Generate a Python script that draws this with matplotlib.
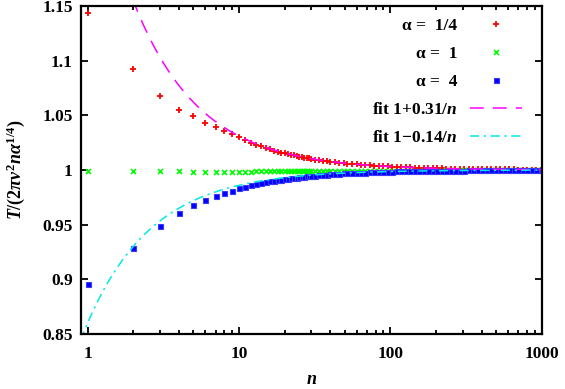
import numpy as np
import matplotlib
matplotlib.use("Agg")
import matplotlib.pyplot as plt
from matplotlib.ticker import FixedLocator, LogLocator, NullFormatter

plt.rcParams['font.family'] = ['Liberation Serif', 'DejaVu Serif']
plt.rcParams['font.weight'] = 'bold'
plt.rcParams['mathtext.fontset'] = 'custom'
plt.rcParams['mathtext.rm'] = 'Liberation Serif:bold'
plt.rcParams['mathtext.it'] = 'Liberation Serif:italic:bold'
plt.rcParams['mathtext.bf'] = 'Liberation Serif:bold'

# system sizes n (every n up to 30, then a sample of the dense tail)
n = [1, 2, 3, 4, 5, 6, 7, 8, 9, 10, 11, 12, 13, 14, 15, 16, 17, 18, 19, 20,
     21, 22, 23, 24, 25, 26, 27, 28, 29, 30,
     32, 34, 36, 38, 40, 43, 46, 49, 52, 56, 60, 64, 68, 73, 78, 84, 90, 96,
     103, 110, 118, 126, 135, 145, 155, 166, 178, 190, 204, 218, 234, 250,
     268, 287, 307, 329, 352, 377, 404, 432, 463, 495, 530, 568, 608, 651,
     697, 746, 799, 855, 916, 980, 1000]

# alpha = 1/4
t_quarter = [1.144, 1.092, 1.068, 1.055, 1.049, 1.043, 1.039, 1.0355, 1.0325, 1.030,
             1.0272, 1.0250, 1.0231, 1.0215, 1.0201, 1.0189, 1.0178, 1.0168, 1.0159, 1.0152,
             1.0145, 1.0139, 1.0133, 1.0127, 1.0122, 1.0118, 1.0113, 1.0109, 1.0106, 1.0102,
             1.0095, 1.0090, 1.0085, 1.0080, 1.0076, 1.0071, 1.0066, 1.0062, 1.0059, 1.0055,
             1.0051, 1.0048, 1.0045, 1.0042, 1.0039, 1.0036, 1.0034, 1.0032,
             1.0030, 1.0028, 1.0026, 1.0024, 1.0023, 1.0021, 1.0020, 1.0018, 1.0017, 1.0016,
             1.0015, 1.0014, 1.0013, 1.0012, 1.0011, 1.0011, 1.0010, 1.0009, 1.0009, 1.0008,
             1.0008, 1.0007, 1.0007, 1.0006, 1.0006, 1.0005, 1.0005, 1.0005, 1.0004, 1.0004,
             1.0004, 1.0004, 1.0003, 1.0003, 1.0003]

# alpha = 1
t_one = [0.9992, 0.9992, 0.9991, 0.9991, 0.9985, 0.9985, 0.9985, 0.9985, 0.9985, 0.9986,
         0.9986, 0.9986, 0.9987, 0.9987, 0.9987, 0.9988, 0.9988, 0.9988, 0.9989, 0.9989,
         0.9989, 0.9989, 0.9990, 0.9990, 0.9990, 0.9990, 0.9990, 0.9990, 0.9991, 0.9991,
         0.9991, 0.9991, 0.9991, 0.9992, 0.9992, 0.9992, 0.9992, 0.9992, 0.9993, 0.9993,
         0.9993, 0.9993, 0.9993, 0.9993, 0.9994, 0.9994, 0.9994, 0.9994,
         0.9994, 0.9994, 0.9994, 0.9995, 0.9995, 0.9995, 0.9995, 0.9995, 0.9995, 0.9995,
         0.9995, 0.9995, 0.9996, 0.9996, 0.9996, 0.9996, 0.9996, 0.9996, 0.9996, 0.9996,
         0.9996, 0.9996, 0.9996, 0.9996, 0.9996, 0.9996, 0.9996, 0.9996, 0.9996, 0.9996,
         0.9996, 0.9996, 0.9996, 0.9996, 0.9996]

# alpha = 4
t_four = [0.896, 0.929, 0.9485, 0.9604, 0.9677, 0.9726, 0.9762, 0.979, 0.981, 0.9832,
          0.9848, 0.9861, 0.9872, 0.9881, 0.9889, 0.9896, 0.9902, 0.9908, 0.9913, 0.9917,
          0.9921, 0.9925, 0.9928, 0.9931, 0.9934, 0.9937, 0.9939, 0.9941, 0.9943, 0.9945,
          0.9949, 0.9952, 0.9955, 0.9957, 0.9960, 0.9963, 0.9965, 0.9968, 0.9970, 0.9972,
          0.9974, 0.9976, 0.9977, 0.9979, 0.9981, 0.9982, 0.9984, 0.9985,
          0.9986, 0.9987, 0.9988, 0.9989, 0.9990, 0.9990, 0.9991, 0.9992, 0.9992, 0.9993,
          0.9993, 0.9994, 0.9994, 0.9994, 0.9995, 0.9995, 0.9995, 0.9996, 0.9996, 0.9996,
          0.9997, 0.9997, 0.9997, 0.9997, 0.9997, 0.9998, 0.9998, 0.9998, 0.9998, 0.9998,
          0.9998, 0.9998, 0.9999, 0.9999, 0.9999]

# fitted coefficients, as given in the legend
fit_plus = 0.31
fit_minus = 0.14

fig = plt.figure(figsize=(5.65, 3.89), dpi=100)
ax = fig.add_axes([0.1434, 0.1414, 0.8156, 0.8432])

ax.plot(n, t_quarter, ls='none', marker='+', ms=4.8, mew=1.3, color='#ff0000',
        label='α =  1/4')
ax.plot(n, t_one, ls='none', marker='x', ms=3.6, mew=1.2, color='#00ff00',
        label='α =  1')
ax.plot(n, t_four, ls='none', marker='s', ms=3.6, mew=0.8, color='#0000ff',
        mec='#3a3aff', label='α =  4')

nn = np.logspace(np.log10(0.9), 3, 400)
ax.plot(nn, 1 + fit_plus / nn, color='#ff00ff', lw=1.1, dashes=(9, 6),
        label='fit 1+0.31/$n$')
ax.plot(nn, 1 - fit_minus / nn, color='#00e8e8', lw=1.1, dashes=(6, 3, 1.5, 3),
        label='fit 1\u22120.14/$n$')

ax.set_xscale('log')
ax.set_xlim(0.905, 1000)
ax.set_ylim(0.85, 1.15)
ax.xaxis.set_major_locator(FixedLocator([1, 10, 100, 1000]))
ax.set_xticklabels(['1', '10', '100', '1000'])
ax.xaxis.set_minor_locator(LogLocator(base=10, subs=np.arange(2, 10)))
ax.xaxis.set_minor_formatter(NullFormatter())
ax.set_yticks([0.85, 0.9, 0.95, 1.0, 1.05, 1.1, 1.15])
ax.set_yticklabels(['0.85', '0.9', '0.95', '1', '1.05', '1.1', '1.15'])

ax.tick_params(which='both', direction='in', top=True, right=True,
               labelsize=12.5, width=1.3)
ax.tick_params(which='major', length=5)
ax.tick_params(which='minor', length=3)
ax.tick_params(axis='x', pad=9)
ax.tick_params(axis='y', pad=6)
for s in ax.spines.values():
    s.set_linewidth(1.6)

ax.set_xlabel('$n$', fontsize=13, labelpad=6)
ax.set_ylabel(r'$T/(2\pi v^2 n\alpha^{1/4})$', fontsize=13, labelpad=11)

leg = ax.legend(loc='upper right', bbox_to_anchor=(0.983, 1.0), frameon=False,
                markerfirst=False, fontsize=12.5, handlelength=3.0,
                handletextpad=0.7, labelspacing=0.68, borderaxespad=0.3,
                numpoints=1)

fig.savefig('out.png', dpi=100)
